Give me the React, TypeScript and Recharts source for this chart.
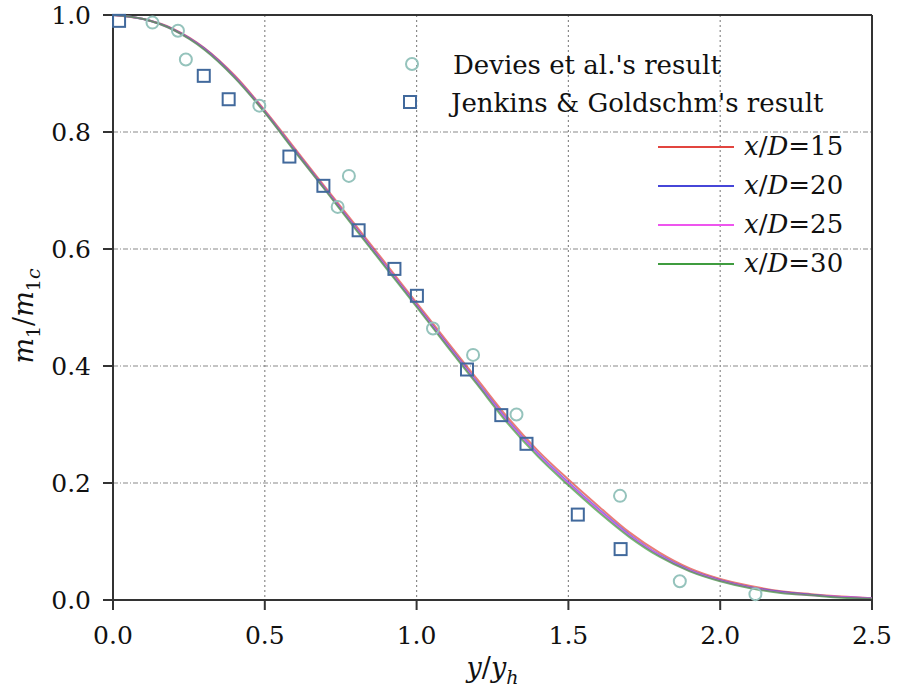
import React from 'react';
import { ComposedChart, Line, Scatter, XAxis, YAxis, CartesianGrid, ReferenceLine } from 'recharts';

// normalised transverse coordinate y/y_h
const yRatio = [0, 0.1, 0.2, 0.3, 0.4, 0.5, 0.6, 0.7, 0.8, 0.9, 1.0, 1.1, 1.2, 1.3, 1.4, 1.5, 1.6, 1.7, 1.8, 1.9, 2.0, 2.1, 2.2, 2.3, 2.4, 2.5];

// m1/m1c profiles at each downstream station
const xd15 = [1.0, 0.993, 0.976, 0.944, 0.897, 0.837, 0.771, 0.705, 0.640, 0.574, 0.508, 0.442, 0.377, 0.312, 0.255, 0.206, 0.160, 0.116, 0.081, 0.054, 0.036, 0.024, 0.015, 0.010, 0.006, 0.003];
const xd20 = [1.0, 0.993, 0.975, 0.943, 0.895, 0.835, 0.768, 0.702, 0.636, 0.570, 0.504, 0.438, 0.372, 0.307, 0.250, 0.201, 0.155, 0.112, 0.077, 0.051, 0.034, 0.022, 0.014, 0.009, 0.005, 0.003];
const xd25 = [1.0, 0.993, 0.974, 0.942, 0.894, 0.834, 0.767, 0.701, 0.635, 0.569, 0.503, 0.436, 0.370, 0.305, 0.248, 0.199, 0.153, 0.110, 0.076, 0.050, 0.033, 0.021, 0.013, 0.008, 0.005, 0.003];
const xd30 = [1.0, 0.993, 0.974, 0.941, 0.893, 0.833, 0.766, 0.700, 0.633, 0.567, 0.501, 0.434, 0.368, 0.302, 0.245, 0.196, 0.150, 0.108, 0.074, 0.049, 0.032, 0.020, 0.012, 0.008, 0.004, 0.002];

// experimental points
const deviesX = [0.130, 0.214, 0.240, 0.482, 0.740, 0.777, 1.054, 1.186, 1.329, 1.670, 1.867, 2.116];
const deviesY = [0.987, 0.973, 0.924, 0.845, 0.672, 0.725, 0.464, 0.419, 0.317, 0.178, 0.032, 0.010];
const jenkinsX = [0.020, 0.299, 0.381, 0.581, 0.693, 0.809, 0.927, 1.001, 1.166, 1.279, 1.362, 1.531, 1.672];
const jenkinsY = [0.990, 0.896, 0.856, 0.758, 0.708, 0.632, 0.566, 0.520, 0.394, 0.316, 0.267, 0.146, 0.087];

const xTicks = [0, 0.5, 1.0, 1.5, 2.0, 2.5];
const yTicks = [0, 0.2, 0.4, 0.6, 0.8, 1.0];

const curves = [
  { key: 'xd15', label: '15', color: '#e2453f' },
  { key: 'xd20', label: '20', color: '#4646d8' },
  { key: 'xd25', label: '25', color: '#ee55ee' },
  { key: 'xd30', label: '30', color: '#3f9c3f' },
];

const profileRows = yRatio.map((x, i) => ({ x, xd15: xd15[i], xd20: xd20[i], xd25: xd25[i], xd30: xd30[i] }));
const deviesRows = deviesX.map((x, i) => ({ x, y: deviesY[i] }));
const jenkinsRows = jenkinsX.map((x, i) => ({ x, y: jenkinsY[i] }));

const SERIF = 'DejaVu Serif';
const CIRCLE_C = '#95c3bc';
const SQUARE_C = '#41699c';
const AXIS = { stroke: '#333', strokeWidth: 2 };
const tickStyle = { fontSize: 25, fill: '#111', fontFamily: SERIF };

const Ring = (p: any) => <circle cx={p.cx} cy={p.cy} r={6} fill="none" stroke={CIRCLE_C} strokeWidth={2} />;
const Box = (p: any) => <rect x={p.cx - 6} y={p.cy - 6} width={12} height={12} fill="none" stroke={SQUARE_C} strokeWidth={2} />;

const XLabel = (p: any) => {
  const vb = p.viewBox;
  return (
    <text x={vb.x + vb.width / 2} y={677} textAnchor="middle" fontFamily={SERIF} fontSize={27} fill="#111">
      <tspan fontStyle="italic">y</tspan>
      <tspan>/</tspan>
      <tspan fontStyle="italic">y</tspan>
      <tspan fontStyle="italic" fontSize={19} dy={7}>h</tspan>
    </text>
  );
};

const YLabel = () => (
  <text x={0} y={0} transform="translate(33,316) rotate(-90)" textAnchor="middle" fontFamily={SERIF} fontSize={27} fill="#111">
    <tspan fontStyle="italic">m</tspan>
    <tspan fontSize={19} dy={7}>1</tspan>
    <tspan dy={-7}>/</tspan>
    <tspan fontStyle="italic">m</tspan>
    <tspan fontSize={19} dy={7}>1</tspan>
    <tspan fontSize={19} fontStyle="italic">c</tspan>
  </text>
);

const LegendOverlay = () => (
  <svg width={900} height={689} style={{ position: 'absolute', left: 0, top: 0, pointerEvents: 'none' }} fontFamily={SERIF}>
    <circle cx={412} cy={64} r={6} fill="none" stroke={CIRCLE_C} strokeWidth={2} />
    <text x={453} y={74} fontSize={26} fill="#111">Devies et al.'s result</text>
    <rect x={404} y={96} width={12} height={12} fill="none" stroke={SQUARE_C} strokeWidth={2} />
    <text x={451} y={112} fontSize={26} fill="#111">Jenkins &amp; Goldschm's result</text>
    {curves.map((c, i) => {
      const y = 147 + i * 39;
      return (
        <g key={c.key}>
          <line x1={658} x2={734} y1={y} y2={y} stroke={c.color} strokeWidth={2} />
          <text x={744} y={y + 8} fontSize={26} fill="#111">
            <tspan fontStyle="italic">x</tspan>/<tspan fontStyle="italic">D</tspan>={c.label}
          </text>
        </g>
      );
    })}
  </svg>
);

export default function App() {
  return (
    <div style={{ position: 'absolute', left: 0, top: 0, width: 900, height: 689, background: '#fff' }}>
      <ComposedChart width={900} height={689} data={profileRows} margin={{ top: 15, right: 28, left: 0, bottom: 0 }}>
        <CartesianGrid vertical={false} stroke="#8a8a8a" strokeWidth={1.2} strokeDasharray="5 2 1 2" />
        <CartesianGrid horizontal={false} stroke="#8a8a8a" strokeWidth={1.2} strokeDasharray="2 3" />
        <XAxis
          dataKey="x"
          type="number"
          domain={[0, 2.5]}
          ticks={xTicks}
          tickFormatter={(v: number) => v.toFixed(1)}
          axisLine={AXIS}
          tickLine={AXIS}
          tickSize={10}
          tickMargin={16}
          height={89}
          tick={tickStyle}
          label={{ content: XLabel }}
        />
        <YAxis
          type="number"
          domain={[0, 1]}
          ticks={yTicks}
          tickFormatter={(v: number) => v.toFixed(1)}
          axisLine={AXIS}
          tickLine={AXIS}
          tickSize={10}
          tickMargin={12}
          width={113}
          tick={tickStyle}
          label={{ content: YLabel }}
        />
        {/* frame: top and right edges */}
        <ReferenceLine y={1} stroke="#333" strokeWidth={2} />
        <ReferenceLine x={2.5} stroke="#333" strokeWidth={2} />
        {curves.map((c) => (
          <Line
            key={c.key}
            type="monotone"
            dataKey={c.key}
            stroke={c.color}
            strokeWidth={2}
            strokeOpacity={0.7}
            dot={false}
            isAnimationActive={false}
          />
        ))}
        <Scatter data={deviesRows} dataKey="y" shape={Ring} isAnimationActive={false} />
        <Scatter data={jenkinsRows} dataKey="y" shape={Box} isAnimationActive={false} />
      </ComposedChart>
      <LegendOverlay />
    </div>
  );
}
